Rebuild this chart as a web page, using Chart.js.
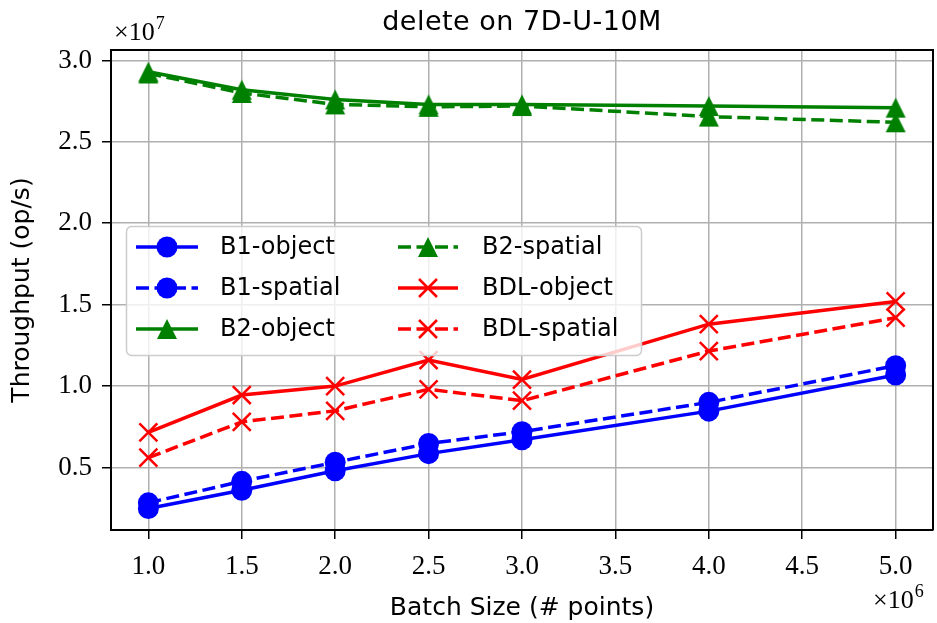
<!DOCTYPE html>
<html>
<head>
<meta charset="utf-8">
<script src="https://cdn.jsdelivr.net/npm/chart.js@4"></script>
<style>
  html, body { margin: 0; padding: 0; background: #fff; }
</style>
</head>
<body>
<canvas id="chart" width="937" height="623"></canvas>
<script>
// batch size in units of 1e6, throughput in units of 1e7
const batchSizes = [1.0, 1.5, 2.0, 2.5, 3.0, 4.0, 5.0];
const b1Object = [0.248, 0.36, 0.48, 0.585, 0.67, 0.846, 1.068];
const b1Spatial = [0.283, 0.415, 0.532, 0.647, 0.72, 0.90, 1.125];
const b2Object = [2.93, 2.82, 2.76, 2.73, 2.73, 2.72, 2.71];
const b2Spatial = [2.92, 2.80, 2.73, 2.715, 2.72, 2.655, 2.62];
const bdlObject = [0.715, 0.945, 1.0, 1.16, 1.04, 1.38, 1.52];
const bdlSpatial = [0.56, 0.78, 0.848, 0.98, 0.91, 1.215, 1.42];
const xTicks = [1.0, 1.5, 2.0, 2.5, 3.0, 3.5, 4.0, 4.5, 5.0];
const yTicks = [0.5, 1.0, 1.5, 2.0, 2.5, 3.0];

const BLUE = "#0000ff", GREEN = "#008000", RED = "#ff0000";
const DASH = [13, 5.5];
const SANS = "'DejaVu Sans', sans-serif";
const SERIF = "'Liberation Serif', serif";

// matplotlib-like "^" marker: as wide as it is tall, centred on the point
function triangleImage(color) {
  const c = document.createElement("canvas");
  c.width = 22; c.height = 22;
  const g = c.getContext("2d");
  g.fillStyle = color;
  g.beginPath();
  g.moveTo(11, 1); g.lineTo(21, 21); g.lineTo(1, 21);
  g.closePath();
  g.fill();
  return c;
}
const greenTriangle = triangleImage(GREEN);

const series = [
  { label: "B1-object", data: b1Object, color: BLUE, dashed: false, marker: "circle" },
  { label: "B1-spatial", data: b1Spatial, color: BLUE, dashed: true, marker: "circle" },
  { label: "B2-object", data: b2Object, color: GREEN, dashed: false, marker: "triangle" },
  { label: "B2-spatial", data: b2Spatial, color: GREEN, dashed: true, marker: "triangle" },
  { label: "BDL-object", data: bdlObject, color: RED, dashed: false, marker: "crossRot" },
  { label: "BDL-spatial", data: bdlSpatial, color: RED, dashed: true, marker: "crossRot" },
];

function pointStyleFor(m) {
  return m === "triangle" ? greenTriangle : m;
}
function markerRadius(m) {
  if (m === "circle") return 10.5;
  if (m === "triangle") return 11;
  return 12.7;
}

function drawMarker(ctx, m, x, y, color) {
  ctx.save();
  ctx.setLineDash([]);
  ctx.fillStyle = color;
  ctx.strokeStyle = color;
  if (m === "circle") {
    ctx.beginPath();
    ctx.arc(x, y, 10.5, 0, Math.PI * 2);
    ctx.fill();
  } else if (m === "triangle") {
    ctx.drawImage(greenTriangle, x - 11, y - 11);
  } else {
    ctx.lineWidth = 2.5;
    ctx.beginPath();
    ctx.moveTo(x - 9, y - 9); ctx.lineTo(x + 9, y + 9);
    ctx.moveTo(x + 9, y - 9); ctx.lineTo(x - 9, y + 9);
    ctx.stroke();
  }
  ctx.restore();
}

const overlay = {
  id: "overlay",
  afterDraw(chart) {
    const ctx = chart.ctx;
    const a = chart.chartArea;
    ctx.save();
    // top and right frame
    ctx.strokeStyle = "#000";
    ctx.lineWidth = 2;
    ctx.beginPath();
    ctx.moveTo(a.left, a.top); ctx.lineTo(a.right, a.top); ctx.lineTo(a.right, a.bottom);
    ctx.stroke();

    // title
    ctx.fillStyle = "#000";
    ctx.font = "27px " + SANS;
    ctx.letterSpacing = "0.5px";
    ctx.textAlign = "center";
    ctx.textBaseline = "alphabetic";
    ctx.fillText("delete on 7D-U-10M", (a.left + a.right) / 2, 30);
    ctx.letterSpacing = "0px";

    // axis multipliers
    ctx.textAlign = "left";
    ctx.font = "26px " + SERIF;
    ctx.fillText("\u00d710", 114, 40);
    let w = ctx.measureText("\u00d710").width;
    ctx.font = "18px " + SERIF;
    ctx.fillText("7", 114 + w + 1, 29);
    ctx.font = "26px " + SERIF;
    ctx.fillText("\u00d710", 873, 608);
    w = ctx.measureText("\u00d710").width;
    ctx.font = "18px " + SERIF;
    ctx.fillText("6", 873 + w + 1, 597);

    // legend
    ctx.fillStyle = "rgba(255,255,255,0.8)";
    ctx.strokeStyle = "#cccccc";
    ctx.lineWidth = 1.5;
    ctx.beginPath();
    ctx.roundRect(126.5, 226.5, 515, 129, 5);
    ctx.fill();
    ctx.stroke();
    const rows = [247, 288, 329];
    const cols = [{ x0: 136, x1: 198, tx: 220 }, { x0: 398, x1: 458, tx: 482 }];
    ctx.font = "24px " + SANS;
    ctx.textBaseline = "middle";
    series.forEach((s, i) => {
      const c = cols[Math.floor(i / 3)];
      const y = rows[i % 3];
      ctx.strokeStyle = s.color;
      ctx.lineWidth = 3.5;
      ctx.setLineDash(s.dashed ? DASH : []);
      ctx.beginPath();
      ctx.moveTo(c.x0, y); ctx.lineTo(c.x1, y);
      ctx.stroke();
      ctx.setLineDash([]);
      drawMarker(ctx, s.marker, (c.x0 + c.x1) / 2, y, s.color);
      ctx.fillStyle = "#000";
      ctx.fillText(s.label, c.tx, y + 1);
    });
    ctx.restore();
  }
};

new Chart(document.getElementById("chart"), {
  type: "line",
  data: {
    datasets: series.map((s, i) => ({
      label: s.label,
      data: batchSizes.map((x, j) => ({ x: x, y: s.data[j] })),
      borderColor: s.color,
      backgroundColor: s.color,
      borderWidth: 3.5,
      borderDash: s.dashed ? DASH : [],
      pointStyle: pointStyleFor(s.marker),
      pointRadius: markerRadius(s.marker),
      pointBorderWidth: s.marker === "crossRot" ? 2.5 : 0,
      pointHoverRadius: markerRadius(s.marker),
      fill: false,
      tension: 0,
      order: 6 - i,
    })),
  },
  options: {
    responsive: false,
    animation: false,
    devicePixelRatio: 1,
    layout: { autoPadding: false, padding: { top: 50, right: 4, left: 0, bottom: 0 } },
    plugins: {
      legend: { display: false },
      title: { display: false },
      tooltip: { enabled: false },
    },
    scales: {
      x: {
        type: "linear",
        min: 0.8,
        max: 5.2,
        afterBuildTicks: (scale) => { scale.ticks = xTicks.map((v) => ({ value: v })); },
        afterFit: (scale) => { scale.height = 93; scale.paddingLeft = 0; scale.paddingRight = 0; },
        ticks: {
          callback: (v) => v.toFixed(1),
          color: "#000",
          font: { family: SERIF, size: 27 },
          padding: 12,
          maxRotation: 0,
          autoSkip: false,
        },
        grid: { color: "#b0b0b0", lineWidth: 1.5, tickColor: "#000", tickLength: 9, tickWidth: 1.5 },
        border: { color: "#000", width: 2 },
        title: {
          display: true,
          text: "Batch Size (# points)",
          color: "#000",
          font: { family: SANS, size: 25 },
          padding: { top: 4, bottom: 0 },
        },
      },
      y: {
        type: "linear",
        min: 0.116,
        max: 3.064,
        afterBuildTicks: (scale) => { scale.ticks = yTicks.map((v) => ({ value: v })); },
        afterFit: (scale) => { scale.width = 111; scale.paddingTop = 0; scale.paddingBottom = 0; },
        ticks: {
          callback: (v) => v.toFixed(1),
          color: "#000",
          font: { family: SERIF, size: 27 },
          padding: 10,
        },
        grid: { color: "#b0b0b0", lineWidth: 1.5, tickColor: "#000", tickLength: 9, tickWidth: 1.5 },
        border: { color: "#000", width: 2 },
        title: {
          display: true,
          text: "Throughput (op/s)",
          color: "#000",
          font: { family: SANS, size: 25 },
          padding: { top: 7, bottom: 0 },
        },
      },
    },
  },
  plugins: [overlay],
});
</script>
</body>
</html>
